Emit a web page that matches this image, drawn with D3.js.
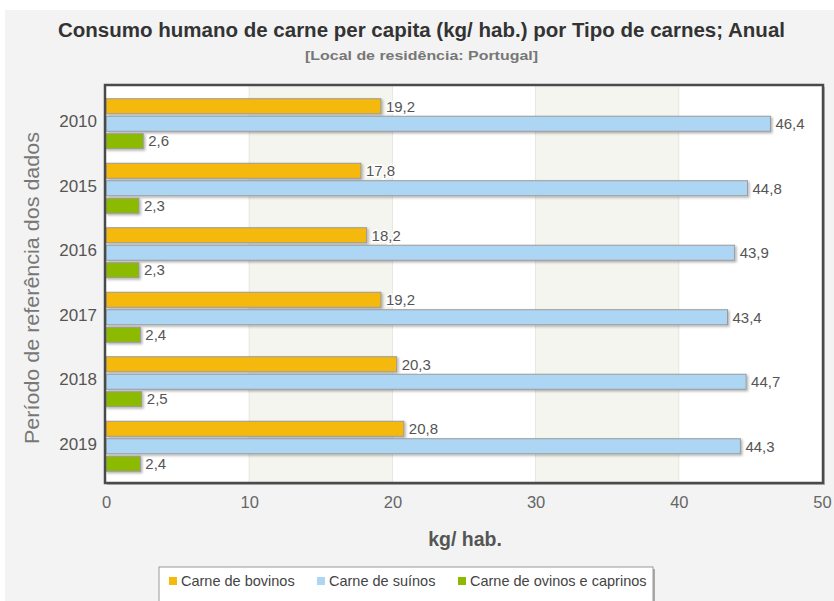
<!DOCTYPE html>
<html>
<head>
<meta charset="utf-8">
<script src="https://cdn.jsdelivr.net/npm/d3@7"></script>
<style>
html,body{margin:0;padding:0;background:#fff;}
svg{display:block;font-family:"Liberation Sans",Arial,sans-serif;}
</style>
</head>
<body>
<svg id="chart" width="834" height="601"></svg>
<script>
const years = ["2010","2015","2016","2017","2018","2019"];
const seriesNames = ["Carne de bovinos","Carne de suínos","Carne de ovinos e caprinos"];
const bovinos = [19.2,17.8,18.2,19.2,20.3,20.8];
const suinos = [46.4,44.8,43.9,43.4,44.7,44.3];
const ovinos = [2.6,2.3,2.3,2.4,2.5,2.4];
const xTicks = [0,10,20,30,40,50];
const colors = ["#f5b90d","#add6f5","#8cba00"];

const seriesValues = [bovinos, suinos, ovinos];
const svg = d3.select("#chart");

// page background
svg.append("rect").attr("x",5).attr("y",10).attr("width",829).attr("height",591).attr("fill","#f3f3f3");

const L = 105, R = 823, T = 85, B = 483;
const x = d3.scaleLinear().domain([0,50]).range([L+1, 822]);
const y = d3.scaleBand().domain(years).range([91.5, 478.5]);
const inner = d3.scaleBand().domain([0,1,2]).range([-25,25]).paddingInner(0.14);

const defs = svg.append("defs");
const f = defs.append("filter").attr("id","sh").attr("x","-5%").attr("y","-30%").attr("width","115%").attr("height","180%");
f.append("feDropShadow").attr("dx",1.5).attr("dy",1.5).attr("stdDeviation",1).attr("flood-color","#000").attr("flood-opacity",0.3);

// plot shadow + background
svg.append("rect").attr("x",L+2).attr("y",T+2).attr("width",R-L).attr("height",B-T).attr("fill","#bbb");
svg.append("rect").attr("x",L).attr("y",T).attr("width",R-L).attr("height",B-T).attr("fill","#fff");

// alternating bands
const bands = [[10,20],[30,40]];
svg.append("g").selectAll("rect").data(bands).join("rect")
  .attr("x",d=>x(d[0])).attr("y",T).attr("width",d=>x(d[1])-x(d[0])).attr("height",B-T)
  .attr("fill","#f5f5f0");
svg.append("g").selectAll("line").data(xTicks.slice(1,-1)).join("line")
  .attr("x1",d=>x(d)).attr("x2",d=>x(d)).attr("y1",T).attr("y2",B)
  .attr("stroke","#e6e6e0").attr("stroke-width",1);

// bars
const rows = [];
years.forEach((yr,i)=>seriesValues.forEach((vals,s)=>rows.push({yr,s,v:vals[i]})));
const g = svg.append("g");
g.selectAll("rect").data(rows).join("rect")
  .attr("x",x(0)).attr("y",d=>y(d.yr)+y.bandwidth()/2+inner(d.s))
  .attr("width",d=>x(d.v)-x(0)).attr("height",inner.bandwidth())
  .attr("fill",d=>colors[d.s]).attr("stroke","#9a9a9a").attr("stroke-width",1)
  .attr("filter","url(#sh)");
g.selectAll("text").data(rows).join("text")
  .attr("x",d=>x(d.v)+5).attr("y",d=>y(d.yr)+y.bandwidth()/2+inner(d.s)+inner.bandwidth()/2)
  .attr("dy","0.35em").attr("font-size",15).attr("fill","#555")
  .attr("stroke","#fff").attr("stroke-width",3).attr("paint-order","stroke")
  .text(d=>d3.format(".1f")(d.v).replace(".",","));

// border
svg.append("rect").attr("x",L).attr("y",T).attr("width",R-L).attr("height",B-T)
  .attr("fill","none").attr("stroke","#4a4a4a").attr("stroke-width",2.5);

// axes
const xAxis = d3.axisBottom(x).tickValues(xTicks).tickSize(0).tickPadding(0);
const xg = svg.append("g").attr("transform",`translate(0,${B})`).call(xAxis);
xg.select(".domain").remove();
xg.selectAll("text").attr("y",25).attr("dy",null).attr("font-size",16.5).attr("fill","#666").attr("font-family","inherit");

const yAxis = d3.axisLeft(y).tickSize(0).tickPadding(0);
const yg = svg.append("g").attr("transform",`translate(${L-8},0)`).call(yAxis);
yg.select(".domain").remove();
yg.selectAll("text").attr("font-size",17).attr("fill","#555").attr("font-family","inherit").attr("dy","0.2em");

// titles
svg.append("text").attr("x",421.5).attr("y",37).attr("text-anchor","middle")
  .attr("font-size",19.5).attr("font-weight","bold").attr("fill","#333")
  .attr("textLength",727).attr("lengthAdjust","spacingAndGlyphs")
  .text("Consumo humano de carne per capita (kg/ hab.) por Tipo de carnes; Anual");
svg.append("text").attr("x",421.5).attr("y",60).attr("text-anchor","middle")
  .attr("font-size",13.5).attr("font-weight","bold").attr("fill","#777")
  .attr("textLength",233).attr("lengthAdjust","spacingAndGlyphs")
  .text("[Local de residência: Portugal]");
svg.append("text").attr("x",465).attr("y",546).attr("text-anchor","middle")
  .attr("font-size",19.5).attr("font-weight","bold").attr("fill","#555").text("kg/ hab.");
svg.append("text").attr("transform","translate(39,288) rotate(-90)").attr("text-anchor","middle")
  .attr("font-size",20).attr("fill","#777")
  .attr("textLength",312).attr("lengthAdjust","spacingAndGlyphs")
  .text("Período de referência dos dados");

// legend
svg.append("rect").attr("x",161).attr("y",569).attr("width",494).attr("height",40).attr("fill","#aaa");
svg.append("rect").attr("x",159).attr("y",567).attr("width",494).attr("height",40).attr("fill","#fff").attr("stroke","#999");
const legX = [169,317,458];
const lg = svg.append("g").selectAll("g").data(seriesNames).join("g")
  .attr("transform",(d,i)=>`translate(${legX[i]},581)`);
lg.append("rect").attr("x",0).attr("y",-4).attr("width",8).attr("height",8).attr("fill",(d,i)=>colors[i]);
lg.append("text").attr("x",12).attr("y",0).attr("dy","0.35em").attr("font-size",14.5).attr("fill","#444").text(d=>d);
</script>
</body>
</html>
